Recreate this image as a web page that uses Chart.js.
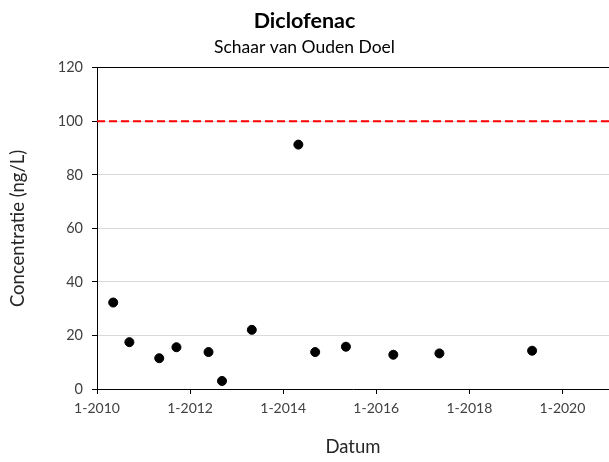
<!DOCTYPE html>
<html>
<head>
<meta charset="utf-8">
<script src="https://cdn.jsdelivr.net/npm/chart.js@4"></script>
<style>
  body { margin: 0; background: #fff; }
  #wrap { width: 609px; height: 462px; position: relative; }
</style>
</head>
<body>
<div id="wrap"><canvas id="chart"></canvas></div>
<script>
// Sample dates and measured concentrations (ng/L)
const sampleDates = [
    '2010-05-08', '2010-09-12', '2011-05-04', '2011-09-16', '2012-05-25',
    '2012-09-08', '2013-04-30', '2014-04-30', '2014-09-09', '2015-05-08',
    '2016-05-14', '2017-05-11', '2019-05-08'
];
const concentrations = [32.3, 17.5, 11.5, 15.6, 13.8, 3.0, 22.1, 91.3, 13.8, 15.8, 12.8, 13.3, 14.3];

// Norm line
const normValue = 100;

// Axis ticks (years, shown as "1-YYYY")
const xTickYears = [2010, 2012, 2014, 2016, 2018, 2020];
const xMin = 2010;
const xMax = 2021;
const yTicks = [0, 20, 40, 60, 80, 100, 120];

const FONT = 'Lato, "Noto Sans", sans-serif';

// Convert a date string to a decimal year
function toYear(str) {
    const d = new Date(str + 'T00:00:00Z');
    const y = d.getUTCFullYear();
    const start = Date.UTC(y, 0, 1);
    const end = Date.UTC(y + 1, 0, 1);
    return y + (d.getTime() - start) / (end - start);
}

const points = sampleDates.map((s, i) => ({ x: toYear(s), y: concentrations[i] }));

new Chart(document.getElementById('chart'), {
    type: 'scatter',
    data: {
        datasets: [
            {
                label: 'Norm',
                type: 'line',
                data: [{ x: xMin, y: normValue }, { x: xMax, y: normValue }],
                borderColor: '#ff0000',
                borderWidth: 2,
                borderDash: [8, 4],
                pointRadius: 0,
                fill: false
            },
            {
                label: 'Diclofenac',
                data: points,
                backgroundColor: '#000',
                borderColor: '#000',
                pointRadius: 4.5,
                pointHoverRadius: 4.5
            }
        ]
    },
    options: {
        responsive: true,
        maintainAspectRatio: false,
        animation: false,
        layout: { padding: 0, autoPadding: false },
        plugins: {
            legend: { display: false },
            tooltip: { enabled: false },
            title: {
                display: true,
                text: 'Diclofenac',
                color: '#000',
                font: { family: FONT, size: 21.5, weight: 'bold' },
                padding: { top: 8, bottom: 3 }
            },
            subtitle: {
                display: true,
                text: 'Schaar van Ouden Doel',
                color: '#000',
                font: { family: FONT, size: 17.5 },
                padding: { top: 0, bottom: 10 }
            }
        },
        scales: {
            x: {
                type: 'linear',
                min: xMin,
                max: xMax,
                afterBuildTicks: axis => {
                    axis.ticks = xTickYears.map(v => ({ value: v }));
                },
                afterFit: scale => {
                    scale.height = 73;
                    scale.paddingLeft = 0;
                    scale.paddingRight = 0;
                },
                grid: {
                    drawOnChartArea: false,
                    tickLength: 5,
                    tickColor: '#000'
                },
                border: { color: '#000', width: 1 },
                ticks: {
                    padding: 6,
                    color: '#404040',
                    font: { family: FONT, size: 14 },
                    maxRotation: 0,
                    callback: v => '1-' + v
                },
                title: {
                    display: true,
                    text: 'Datum',
                    color: '#262626',
                    font: { family: FONT, size: 18.5 },
                    padding: { top: 0, bottom: 4 }
                }
            },
            y: {
                min: 0,
                max: 120,
                afterBuildTicks: axis => {
                    axis.ticks = yTicks.map(v => ({ value: v }));
                },
                afterFit: scale => { scale.width = 97; },
                grid: {
                    color: ctx => (ctx.tick && ctx.tick.value === 120 ? '#000' : '#d9d9d9'),
                    lineWidth: 1,
                    tickLength: 5,
                    tickColor: '#000'
                },
                border: { color: '#000', width: 1 },
                ticks: {
                    padding: 9,
                    color: '#404040',
                    font: { family: FONT, size: 14.5 }
                },
                title: {
                    display: true,
                    text: 'Concentratie (ng/L)',
                    color: '#262626',
                    font: { family: FONT, size: 18.5 },
                    padding: { top: 7, bottom: 0 }
                }
            }
        }
    }
});
</script>
</body>
</html>
